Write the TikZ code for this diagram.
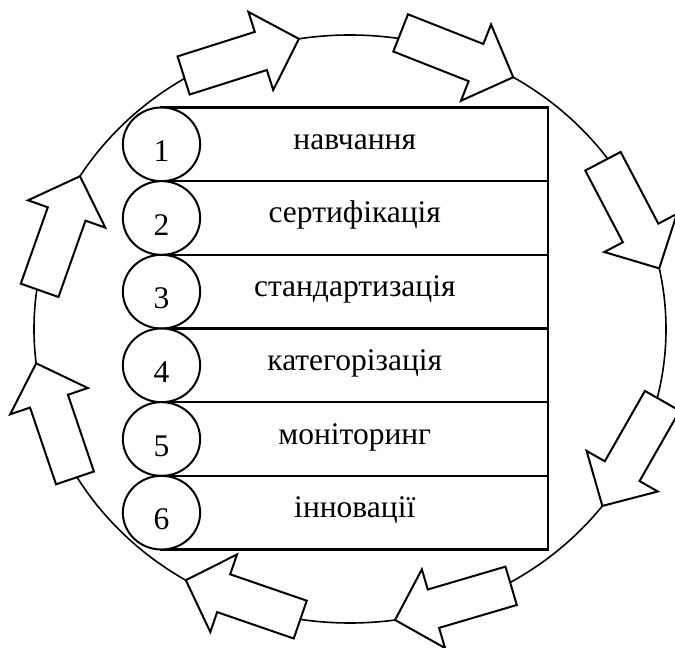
\documentclass[tikz,border=0pt]{standalone}
\usepackage{fontspec}
\setmainfont{Liberation Serif}
\usetikzlibrary{shapes.geometric}
\begin{document}
\begin{tikzpicture}[x=1pt,y=1pt,
  ringstyle/.style={ellipse, draw, line width=1.6pt, minimum width=632pt, minimum height=588pt, inner sep=0pt},
  blockarr/.style={draw, fill=white, line width=2pt, line join=miter},
  rowbox/.style={draw, line width=2.3pt, minimum width=386.5pt, minimum height=73.67pt, inner sep=0pt,
    text height=20pt, text depth=10pt, font=\fontsize{31.5}{36}\selectfont},
  numcirc/.style={ellipse, draw, fill=white, line width=2pt, minimum width=77.3pt, minimum height=73.7pt,
    inner sep=0pt, text height=34pt, text depth=0pt, font=\fontsize{31.5}{36}\selectfont},
  blockarrow/.pic={\path[blockarr] (-121,-20) -- (-40,-20) -- (-40,-41) -- (0,0) -- (-40,41) -- (-40,20) -- (-121,20) -- cycle;}
]
\useasboundingbox (0,0) rectangle (675,648);
\clip (0,0) rectangle (675,648);
% outer ring
\node[ringstyle] (ring) at (350,319) {};
% block arrows around the ring
\foreach \t/\a in {99.3/17.6, 58.9/-21.5, 11.9/-62.3, -37/-119.7, -81.8/-163.6, -121.3/161, -173.3/108.7, 148.7/70.5}
  \pic[rotate=\a] at ({350+316*cos(\t)},{319+294*sin(\t)}) {blockarrow};
% rows
\foreach \i/\txt in {1/навчання, 2/сертифікація, 3/стандартизація, 4/категорізація, 5/моніторинг, 6/інновації}
  \node[rowbox] (r\i) at (354.75,{540.5-73.67*(\i-0.5)}) {\txt};
% numbered circles
\foreach \i in {1,...,6}
  \node[numcirc] (c\i) at (161.5,{540.5-73.67*(\i-0.5)}) {\i};
\end{tikzpicture}
\end{document}
